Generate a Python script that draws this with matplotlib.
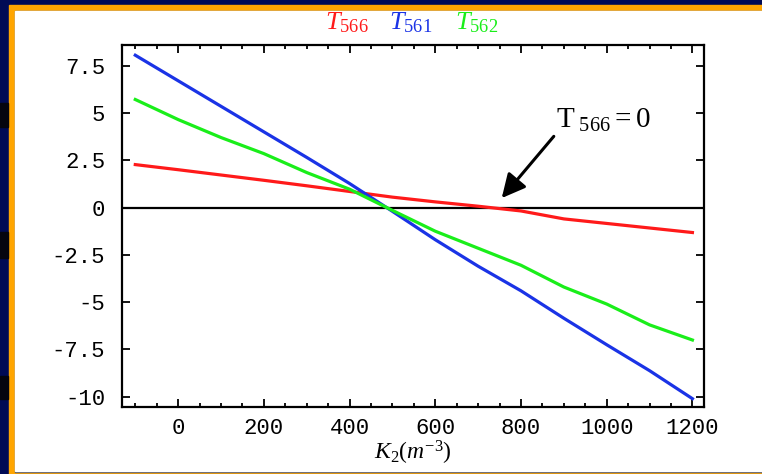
import matplotlib
matplotlib.use('Agg')
import matplotlib.pyplot as plt
from matplotlib.patches import Rectangle
from matplotlib.ticker import MultipleLocator

plt.rcParams['mathtext.fontset'] = 'custom'
plt.rcParams['mathtext.rm'] = 'Liberation Serif'
plt.rcParams['mathtext.it'] = 'Liberation Serif:italic'

# K2 values and the three torques
k2 = [-100, 0, 100, 200, 300, 400, 500, 600, 700, 800, 900, 1000, 1100, 1200]
t566 = [2.27, 2.0, 1.72, 1.44, 1.15, 0.85, 0.55, 0.3, 0.07, -0.18, -0.6, -0.84, -1.08, -1.32]
t561 = [8.05, 6.7, 5.35, 4.0, 2.65, 1.27, -0.2, -1.7, -3.1, -4.4, -5.85, -7.25, -8.62, -10.1]
t562 = [5.71, 4.65, 3.7, 2.85, 1.85, 0.97, -0.15, -1.25, -2.15, -3.05, -4.2, -5.1, -6.2, -7.0]

xticks = [0, 200, 400, 600, 800, 1000, 1200]
yticks = [7.5, 5, 2.5, 0, -2.5, -5, -7.5, -10]
ytick_labels = ['7.5', '5', '2.5', '0', '-2.5', '-5', '-7.5', '-10']

W, H = 762, 474
fig = plt.figure(figsize=(W / 100, H / 100), dpi=100)
fig.patch.set_facecolor('#000a55')

# slide frame: orange border, white panel, dark marks on the left edge
def box(x0, y0, x1, y1, color):
    fig.patches.append(Rectangle((x0 / W, 1 - y1 / H), (x1 - x0) / W, (y1 - y0) / H,
                                 transform=fig.transFigure, color=color, zorder=-5))

box(9, 5, W, H, '#ffa500')
box(15, 11, W, 472, '#50505a')
box(15, 11, W, 471, 'white')
for y0, y1 in [(103, 127), (232, 258), (376, 399)]:
    box(0, y0, 8, y1, '#05050f')

ax = fig.add_axes([122 / W, 1 - 407 / H, (704 - 122) / W, (407 - 45) / H])
ax.set_facecolor('white')

ax.plot(k2, t566, color='#ff1a1a', lw=2.3)
ax.plot(k2, t561, color='#1a33e6', lw=2.3)
ax.plot(k2, t562, color='#1aee1a', lw=2.3)
ax.axhline(0, color='black', lw=1.6, zorder=1)

ax.set_xlim(-131, 1227)
ax.set_ylim(-10.54, 8.59)

ax.set_xticks(xticks)
ax.set_xticklabels([str(v) for v in xticks])
ax.xaxis.set_minor_locator(MultipleLocator(50))
ax.set_yticks(yticks)
ax.set_yticklabels(ytick_labels)

mono = 'Liberation Mono'
ax.tick_params(which='both', direction='in', top=True, right=True, width=1.3)
ax.tick_params(which='major', length=5.5)
ax.tick_params(which='minor', length=3)
ax.tick_params(axis='x', pad=8)
ax.tick_params(axis='y', pad=12)
for lab in ax.get_xticklabels() + ax.get_yticklabels():
    lab.set_family(mono)
    lab.set_fontsize(16)
for s in ax.spines.values():
    s.set_linewidth(1.6)

ax.set_xlabel(r'$K_{\mathit{2}}(m^{-3})$', fontsize=17, labelpad=0)

# series labels along the top
fig.text(347 / W, 1 - 22 / H, r'$T_{\mathit{566}}$', color='#ff1a1a',
         fontsize=19, ha='center', va='center')
fig.text(411 / W, 1 - 22 / H, r'$T_{\mathit{561}}$', color='#1a33e6',
         fontsize=19, ha='center', va='center')
fig.text(477 / W, 1 - 22 / H, r'$T_{\mathit{562}}$', color='#1aee1a',
         fontsize=19, ha='center', va='center')

ax.annotate(r'$\mathrm{T}_{\ \mathrm{566}}\mathrm{=0}$', xy=(755, 0.5), xytext=(882, 4.65),
            fontsize=21, ha='left', va='center',
            arrowprops=dict(arrowstyle='-|>', color='black', lw=2.2,
                            mutation_scale=36, shrinkA=0, shrinkB=0,
                            relpos=(0, 0)))

fig.savefig('out.png', dpi=100, facecolor=fig.get_facecolor())
